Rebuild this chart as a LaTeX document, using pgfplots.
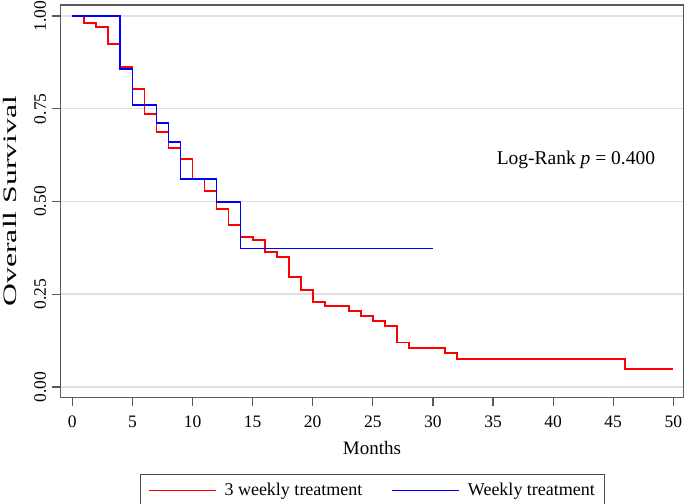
\documentclass[border=0pt]{standalone}
\usepackage{pgfplots}
\pgfplotsset{compat=1.18}
\usepackage{fontspec}
\setmainfont{Liberation Serif}

% Kaplan-Meier estimates (time in months, survival)
\pgfplotstableread{
t s
0 1.000
1 0.980
2 0.970
3 0.924
4 0.863
5 0.803
6 0.735
7 0.687
8 0.645
9 0.614
10 0.561
11 0.529
12 0.479
13 0.437
14 0.405
15 0.396
16 0.364
17 0.351
18 0.296
19 0.261
20 0.228
21 0.218
23 0.205
24 0.191
25 0.178
26 0.164
27 0.120
28 0.104
31 0.091
32 0.075
46 0.049
50 0.049
}\threeweekly

\pgfplotstableread{
t s
0 1.000
4 0.857
5 0.760
7 0.712
8 0.660
9 0.560
12 0.498
14 0.373
30 0.373
}\weekly

\begin{document}
\begin{tikzpicture}
\useasboundingbox (-60.7bp,-106.7bp) rectangle (624.3bp,397.3bp);
\begin{axis}[
  scale only axis,
  width=622.6bp, height=392.3bp,
  xmin=-0.965, xmax=50.83,
  ymin=-0.028, ymax=1.0296,
  xtick={0,5,...,50},
  ytick={0,0.25,0.5,0.75,1},
  yticklabels={0.00,0.25,0.50,0.75,1.00},
  tick pos=left, tick align=outside,
  major tick length=9bp,
  axis line style={draw=black!65, line width=1.3bp},
  every tick/.style={draw=black!65, line width=1.2bp},
  ymajorgrids,
  grid style={draw=black!12, line width=1.5bp},
  /pgf/number format/assume math mode=true,
  tick label style={font=\fontsize{17.5bp}{20bp}\selectfont},
  xticklabel style={yshift=-6bp},
  yticklabel style={rotate=90, anchor=south, yshift=2bp},
  xlabel={Months},
  xlabel style={font=\fontsize{19bp}{22bp}\selectfont, at={(axis description cs:0.5,-0.129)}, anchor=center},
  ylabel={\scalebox{1.67}[1]{Overall Survival}},
  ylabel style={font=\fontsize{19bp}{22bp}\selectfont, at={(axis description cs:-0.0814,0.5)}, anchor=center, rotate=0},
  legend columns=2,
  legend style={at={(axis description cs:0.5008,-0.195)}, anchor=north,
    draw=black!70, line width=1bp, inner xsep=8bp, inner ysep=7bp,
    font=\fontsize{18bp}{21bp}\selectfont,
    /tikz/every odd column/.append style={column sep=6bp},
    /tikz/every even column/.append style={column sep=27bp}},
  legend image code/.code={\draw[#1, line width=1.5bp] (0bp,0bp) -- (67bp,0bp);},
]
\addplot[const plot, red, line width=1.8bp] table[x=t, y=s] {\threeweekly};
\addlegendentry{3 weekly treatment}
\addplot[const plot, blue, line width=1.8bp] table[x=t, y=s] {\weekly};
\addlegendentry{Weekly treatment}
\node[font=\fontsize{19.5bp}{22bp}\selectfont] at (axis cs:41.9,0.613) {Log-Rank \textit{p} = 0.400};
\end{axis}
\end{tikzpicture}
\end{document}
